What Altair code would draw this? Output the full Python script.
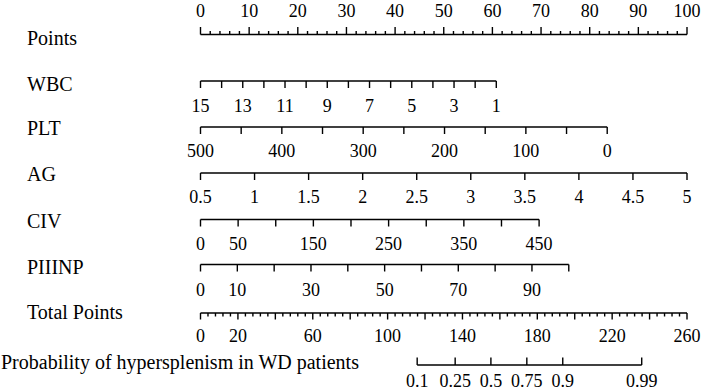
import altair as alt
import pandas as pd

# ---------------- data ----------------
points_ticks = [0, 2, 4, 6, 8, 10, 12, 14, 16, 18, 20, 22, 24, 26, 28, 30, 32, 34, 36, 38, 40,
                42, 44, 46, 48, 50, 52, 54, 56, 58, 60, 62, 64, 66, 68, 70, 72, 74, 76, 78, 80,
                82, 84, 86, 88, 90, 92, 94, 96, 98, 100]
points_labels = [0, 10, 20, 30, 40, 50, 60, 70, 80, 90, 100]

wbc_ticks = [15, 14, 13, 12, 11, 10, 9, 8, 7, 6, 5, 4, 3, 2, 1]
wbc_labels = [15, 13, 11, 9, 7, 5, 3, 1]
wbc_range = (15, 1)          # values at the two ends of the axis
wbc_points = (0, 60.8)       # points at those ends

plt_ticks = [500, 450, 400, 350, 300, 250, 200, 150, 100, 50, 0]
plt_labels = [500, 400, 300, 200, 100, 0]
plt_range = (500, 0)
plt_points = (0, 83.6)

ag_ticks = [0.5, 1, 1.5, 2, 2.5, 3, 3.5, 4, 4.5, 5]
ag_labels = [0.5, 1, 1.5, 2, 2.5, 3, 3.5, 4, 4.5, 5]
ag_range = (0.5, 5)
ag_points = (0, 100)

civ_ticks = [0, 50, 100, 150, 200, 250, 300, 350, 400, 450]
civ_labels = [0, 50, 150, 250, 350, 450]
civ_range = (0, 450)
civ_points = (0, 69.6)

piiinp_ticks = [0, 10, 20, 30, 40, 50, 60, 70, 80, 90, 100]
piiinp_labels = [0, 10, 30, 50, 70, 90]
piiinp_range = (0, 100)
piiinp_points = (0, 75.7)

total_ticks = [0, 4, 8, 12, 16, 20, 24, 28, 32, 36, 40, 44, 48, 52, 56, 60, 64, 68, 72, 76,
               80, 84, 88, 92, 96, 100, 104, 108, 112, 116, 120, 124, 128, 132, 136, 140,
               144, 148, 152, 156, 160, 164, 168, 172, 176, 180, 184, 188, 192, 196, 200,
               204, 208, 212, 216, 220, 224, 228, 232, 236, 240, 244, 248, 252, 256, 260]
total_major = [0, 20, 40, 60, 80, 100, 120, 140, 160, 180, 200, 220, 240, 260]
total_labels = [0, 20, 60, 100, 140, 180, 220, 260]
total_range = (0, 260)
total_points = (0, 100)

prob_labels = ["0.1", "0.25", "0.5", "0.75", "0.9", "0.99"]
prob_total = [115.8, 136.1, 155.2, 174.4, 193.6, 235.8]   # total points at each probability

row_names = ["Points", "WBC", "PLT", "AG", "CIV", "PIIINP", "Total Points",
             "Probability of hypersplenism in WD patients"]

# ---------------- layout (pixels) ----------------
LINE_Y = [34.5, 81, 127, 173, 219.5, 264.5, 313, 365]
LABEL_Y = [12, 107, 152, 198, 245, 291, 337, 382]
NAME_Y = [39, 85, 129, 175, 222, 268, 313, 363]
NAME_X = [27, 27, 27, 27, 27, 27, 27, 1]
FONT = "Liberation Serif"


def to_pts(v, rng, pts):
    return pts[0] + (v - rng[0]) / (rng[1] - rng[0]) * (pts[1] - pts[0])


def fmt(v):
    return ("%g" % v)


lines, ticks, labels = [], [], []

# Points row
r = 0
lines.append(dict(x=0, x2=100, y=LINE_Y[r]))
for t in points_ticks:
    ln = 7.5 if t in points_labels else 3.5
    ticks.append(dict(x=t, y=LINE_Y[r], y2=LINE_Y[r] - ln))
for t in points_labels:
    labels.append(dict(x=t, y=LABEL_Y[r], text=fmt(t)))

# variable rows
var_rows = [
    (wbc_ticks, wbc_labels, wbc_range, wbc_points),
    (plt_ticks, plt_labels, plt_range, plt_points),
    (ag_ticks, ag_labels, ag_range, ag_points),
    (civ_ticks, civ_labels, civ_range, civ_points),
    (piiinp_ticks, piiinp_labels, piiinp_range, piiinp_points),
]
for i, (tk, lb, rng, pts) in enumerate(var_rows):
    r = i + 1
    lines.append(dict(x=to_pts(rng[0], rng, pts), x2=to_pts(rng[1], rng, pts), y=LINE_Y[r]))
    for t in tk:
        ticks.append(dict(x=to_pts(t, rng, pts), y=LINE_Y[r], y2=LINE_Y[r] + 7))
    for t in lb:
        labels.append(dict(x=to_pts(t, rng, pts), y=LABEL_Y[r], text=fmt(t)))

# Total points row
r = 6
lines.append(dict(x=0, x2=100, y=LINE_Y[r]))
for t in total_ticks:
    ln = 6.5 if t in total_major else 3.5
    ticks.append(dict(x=to_pts(t, total_range, total_points), y=LINE_Y[r], y2=LINE_Y[r] + ln))
for t in total_labels:
    labels.append(dict(x=to_pts(t, total_range, total_points), y=LABEL_Y[r], text=fmt(t)))

# Probability row
r = 7
lines.append(dict(x=to_pts(prob_total[0], total_range, total_points),
                  x2=to_pts(prob_total[-1], total_range, total_points), y=LINE_Y[r]))
for t, lab in zip(prob_total, prob_labels):
    xp = to_pts(t, total_range, total_points)
    ticks.append(dict(x=xp, y=LINE_Y[r], y2=LINE_Y[r] - 7.5))
    labels.append(dict(x=xp, y=LABEL_Y[r], text=lab))

names = [dict(x=NAME_X[i], y=NAME_Y[i], text=row_names[i]) for i in range(len(row_names))]

xs = alt.Scale(domain=[0, 100], range=[200.5, 687])
ys = alt.Scale(domain=[0, 392], range=[0, 392])

line_layer = alt.Chart(pd.DataFrame(lines)).mark_rule(color="black", strokeWidth=1.6).encode(
    x=alt.X("x:Q", scale=xs, axis=None), x2="x2:Q",
    y=alt.Y("y:Q", scale=ys, axis=None))

tick_layer = alt.Chart(pd.DataFrame(ticks)).mark_rule(color="black", strokeWidth=1.4).encode(
    x=alt.X("x:Q", scale=xs, axis=None),
    y=alt.Y("y:Q", scale=ys, axis=None), y2="y2:Q")

label_layer = alt.Chart(pd.DataFrame(labels)).mark_text(
    font=FONT, fontSize=18, color="black", align="center", baseline="middle").encode(
    x=alt.X("x:Q", scale=xs, axis=None),
    y=alt.Y("y:Q", scale=ys, axis=None), text="text:N")

name_layer = alt.Chart(pd.DataFrame(names)).mark_text(
    font=FONT, fontSize=20, color="black", align="left", baseline="middle").encode(
    x=alt.X("x:Q", scale=alt.Scale(domain=[0, 714], range=[0, 714]), axis=None),
    y=alt.Y("y:Q", scale=ys, axis=None), text="text:N")

chart = alt.layer(line_layer, tick_layer, label_layer, name_layer).resolve_scale(
    x="independent").properties(
    width=714, height=392, padding=0, autosize=alt.AutoSizeParams(type="none"),
    background="white").configure_view(stroke=None)

chart.save("out.html", embed_options={"renderer": "svg", "actions": False})
